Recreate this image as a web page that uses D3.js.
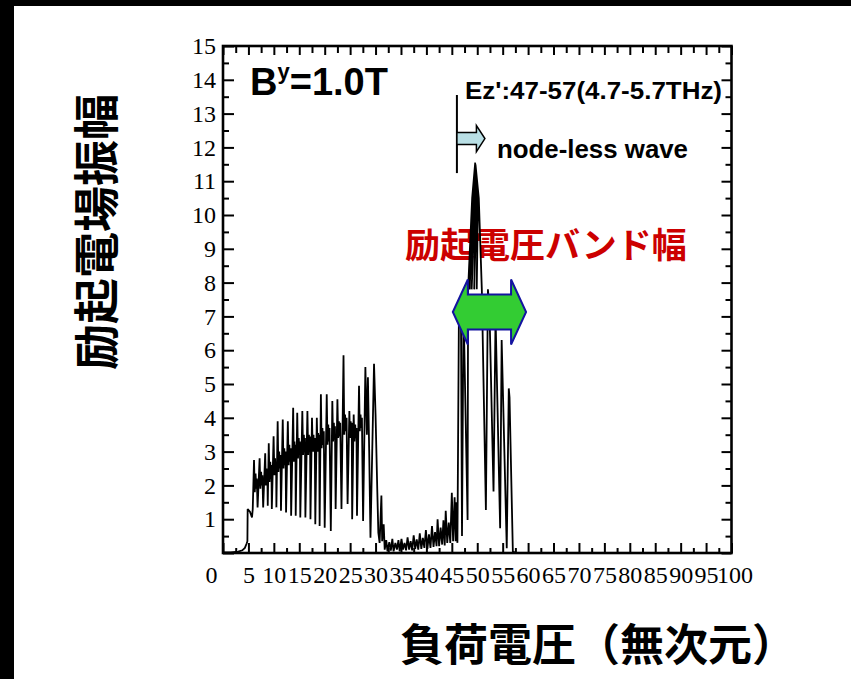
<!DOCTYPE html>
<html>
<head>
<meta charset="utf-8">
<script src="https://cdn.jsdelivr.net/npm/d3@7"></script>
<style>
  html, body { margin: 0; padding: 0; background: #fff; }
  svg { display: block; }
</style>
</head>
<body>
<svg id="chart" width="851" height="679"></svg>
<script>
// ---- Trace of excitation field amplitude vs. load voltage, as [voltage, amplitude] vertices ----

// slow start and first spike below voltage 5
const rampTrace = [
  [0, 0.02], [1.5, 0.02], [3.0, 0.04], [3.8, 0.08], [4.3, 0.15], [4.65, 0.28],
  [4.8, 0.35], [4.85, 1.3]
];

// sawtooth oscillation between voltage 5 and 31
const combTrace = [
  [5.3, 1.22], [5.7, 1.05], [5.85, 1.3], [6.1, 2.75], [6.25, 1.8], [6.4, 2.35], [6.55, 1.9], [6.65, 2.2], [6.8, 1.35],
  [7.2, 2.8], [7.35, 1.9], [7.5, 2.4], [7.62, 2.0], [7.75, 2.3], [7.9, 1.35],
  [8.3, 2.95], [8.42, 2.0], [8.55, 2.5], [8.65, 2.1], [8.72, 2.4], [8.8, 1.4],
  [9.0, 3.25], [9.15, 2.1], [9.3, 2.7], [9.42, 2.2], [9.52, 2.6], [9.6, 1.3],
  [9.95, 3.45], [10.1, 2.3], [10.25, 2.8], [10.35, 2.3], [10.45, 2.7], [10.5, 1.35],
  [10.75, 3.9], [10.9, 2.4], [11.05, 3.0], [11.18, 2.5], [11.3, 2.9], [11.4, 1.25],
  [11.75, 3.95], [11.9, 2.5], [12.05, 3.1], [12.18, 2.6], [12.3, 3.0], [12.4, 1.2],
  [12.75, 3.9], [12.9, 2.6], [13.05, 3.2], [13.18, 2.7], [13.3, 3.1], [13.4, 1.1],
  [13.8, 4.3], [13.92, 2.7], [14.05, 3.3], [14.15, 2.8], [14.25, 3.2], [14.3, 1.1],
  [14.6, 4.15], [14.75, 2.8], [14.9, 3.4], [15.02, 2.9], [15.12, 3.3], [15.2, 1.05],
  [15.6, 4.2], [15.75, 2.9], [15.9, 3.5], [16.02, 3.0], [16.12, 3.4], [16.2, 1.05],
  [16.6, 4.2], [16.75, 2.9], [16.9, 3.5], [17.02, 3.0], [17.12, 3.45], [17.2, 1.0],
  [17.5, 4.0], [17.65, 3.0], [17.8, 3.5], [17.92, 3.0], [18.05, 3.4], [18.15, 0.85],
  [18.45, 4.0], [18.6, 3.0], [18.72, 3.55], [18.82, 3.1], [18.92, 3.5], [19.0, 0.8],
  [19.25, 4.7], [19.4, 3.1], [19.55, 3.7], [19.68, 3.2], [19.82, 3.6], [20.0, 0.75],
  [20.4, 4.7], [20.55, 3.2], [20.7, 3.8], [20.82, 3.3], [20.95, 3.7], [21.2, 0.65],
  [21.5, 4.5], [21.65, 3.3], [21.8, 3.85], [21.92, 3.35], [22.02, 3.75], [22.15, 1.3],
  [22.5, 4.55], [22.65, 3.4], [22.8, 3.9], [22.92, 3.45], [23.05, 3.85], [23.3, 1.3],
  [23.7, 5.85], [23.85, 3.5], [24.0, 4.1], [24.15, 3.6], [24.3, 4.0], [24.5, 1.45],
  [24.85, 4.2], [24.98, 3.4], [25.1, 3.9], [25.22, 3.5], [25.32, 3.85], [25.4, 1.0],
  [25.7, 4.1], [25.85, 3.3], [26.0, 3.8], [26.12, 3.4], [26.25, 3.7], [26.35, 1.1],
  [26.75, 4.95], [26.9, 3.6], [27.05, 4.1], [27.18, 3.7], [27.32, 4.0], [27.55, 0.95],
  [28.0, 5.5], [28.3, 3.5], [28.5, 5.2], [28.75, 3.0], [29.0, 0.45], [29.7, 5.6], [30.0, 4.1],
  [30.35, 1.8], [30.55, 0.6], [30.8, 0.3], [31.15, 1.7], [31.3, 0.35]
];

// low-level ripple between voltage 31 and 46
const quietTrace = [
  [31.6, 0.85], [31.8, 0.1], [32.1, 0.38], [32.35, 0.05], [32.7, 0.32], [33.0, 0.07], [33.3, 0.42],
  [33.55, 0.05], [33.9, 0.3], [34.2, 0.1], [34.5, 0.38], [34.75, 0.05], [35.1, 0.42], [35.4, 0.1],
  [35.7, 0.3], [36.0, 0.08], [36.3, 0.46], [36.6, 0.1], [36.9, 0.35], [37.2, 0.08], [37.5, 0.52],
  [37.8, 0.12], [38.1, 0.4], [38.4, 0.1], [38.7, 0.58], [39.0, 0.12], [39.3, 0.45], [39.6, 0.15],
  [39.9, 0.68], [40.2, 0.12], [40.5, 0.55], [40.8, 0.15], [41.1, 0.8], [41.4, 0.18], [41.7, 0.62],
  [42.0, 0.2], [42.2, 1.0], [42.5, 0.2], [42.8, 0.75], [43.1, 0.25], [43.35, 0.97], [43.6, 0.22],
  [43.8, 1.25], [44.1, 0.3], [44.4, 0.9], [44.7, 0.3], [45.0, 1.78], [45.25, 0.35], [45.55, 1.65],
  [45.75, 0.35], [45.9, 1.5], [46.1, 0.3]
];

// strong response inside the excitation band (main peak drawn as a bundle of strokes)
const bandTrace = [
  [46.4, 7.2], [46.8, 7.0], [47.0, 0.5], [47.3, 7.3], [48.1, 0.98],
  [48.2, 7.8], [49.0, 10.5], [49.6, 11.55],
  [49.15, 10.5], [48.5, 7.8], [49.3, 10.5], [49.6, 11.5],
  [49.45, 10.5], [48.9, 7.8], [49.6, 10.5], [49.62, 11.5],
  [49.75, 10.5], [49.4, 7.8], [49.9, 10.5], [49.6, 11.45],
  [50.05, 10.5], [49.9, 7.8], [50.15, 10.5], [49.65, 11.5],
  [50.3, 10.5], [50.9, 7.8],
  [51.7, 1.27], [52.1, 7.8], [52.4, 7.2], [53.2, 1.82], [53.6, 7.0], [54.5, 0.73], [54.8, 6.3],
  [55.8, 0.14], [56.2, 4.87], [56.35, 4.6], [57.0, 0.05], [57.5, 0.0]
];

// axis ticks and labels
const xTickValues = [0, 5, 10, 15, 20, 25, 30, 35, 40, 45, 50, 55, 60, 65, 70, 75, 80, 85, 90, 95, 100];
const xTickLabels = ["0", "5", "10", "15", "20", "25", "30", "35", "40", "45", "50", "55", "60", "65", "70", "75", "80", "85", "90", "95", "100"];
const xMinorTicks = [2.5, 7.5, 12.5, 17.5, 22.5, 27.5, 32.5, 37.5, 42.5, 47.5, 52.5, 57.5, 62.5, 67.5, 72.5, 77.5, 82.5, 87.5, 92.5, 97.5];
const yTickValues = [0, 1, 2, 3, 4, 5, 6, 7, 8, 9, 10, 11, 12, 13, 14, 15];
const yTickLabels = ["", "1", "2", "3", "4", "5", "6", "7", "8", "9", "10", "11", "12", "13", "14", "15"];
const yMinorTicks = [0.5, 1.5, 2.5, 3.5, 4.5, 5.5, 6.5, 7.5, 8.5, 9.5, 10.5, 11.5, 12.5, 13.5, 14.5];

// annotations, in data units
const bandArrowSpan = [45.2, 59.6];   // tips of the double arrow
const bandArrowLevel = 7.13;
const waveMarkerX = 46.0;             // onset of the node-less wave
const waveMarkerSpan = [11.24, 13.55];
const waveArrowLevel = 12.26;

// titles and labels
const yTitle = "励起電場振幅";
const xTitle = "負荷電圧（無次元）";
const bandLabel = "励起電圧バンド幅";
const fieldLabel = ["B", "y", "=1.0T"];
const rangeLabel = "Ez':47-57(4.7-5.7THz)";
const waveLabel = "node-less wave";

// ---- drawing ----
const svg = d3.select("#chart");
const serif = "'Liberation Serif', 'Times New Roman', serif";
const sans = "'Liberation Sans', Arial, sans-serif";
const cjk = "'Noto Sans CJK JP', 'Noto Sans CJK SC', sans-serif";

const x = d3.scaleLinear().domain([0, 100]).range([223, 731.5]);
const y = d3.scaleLinear().domain([0, 15]).range([553, 46]);

// dark slide edges
svg.append("rect").attr("x", 0).attr("y", 0).attr("width", 851).attr("height", 6).attr("fill", "#000");
svg.append("rect").attr("x", 0).attr("y", 0).attr("width", 14).attr("height", 679).attr("fill", "#000");

// axes: all ticks point into the plot
function styleAxis(g, fontSize) {
  g.select(".domain").remove();
  g.selectAll(".tick line").attr("stroke", "#000").attr("stroke-width", 2);
  g.attr("font-family", serif).attr("font-size", fontSize);
  g.selectAll(".tick text").attr("fill", "#000");
}

const gLeft = svg.append("g").attr("transform", `translate(${x(0)},0)`)
  .call(d3.axisLeft(y).tickValues(yTickValues).tickSize(-11).tickPadding(7)
    .tickFormat((d, i) => yTickLabels[i]));
styleAxis(gLeft, 24);
svg.append("g").attr("transform", `translate(${x(0)},0)`)
  .call(d3.axisLeft(y).tickValues(yMinorTicks).tickSize(-6).tickFormat(""))
  .call(g => styleAxis(g, 24));

svg.append("g").attr("transform", `translate(${x(100)},0)`)
  .call(d3.axisRight(y).tickValues(yTickValues).tickSize(-10).tickFormat(""))
  .call(g => styleAxis(g, 24));
svg.append("g").attr("transform", `translate(${x(100)},0)`)
  .call(d3.axisRight(y).tickValues(yMinorTicks).tickSize(-6).tickFormat(""))
  .call(g => styleAxis(g, 24));

const gBottom = svg.append("g").attr("transform", `translate(0,${y(0)})`)
  .call(d3.axisBottom(x).tickValues(xTickValues).tickSize(-10).tickPadding(13)
    .tickFormat((d, i) => xTickLabels[i]));
styleAxis(gBottom, 24);
// the corner label sits left of the origin; the last label is nudged clear of "95"
gBottom.selectAll(".tick text").attr("dx", d => d === 0 ? -12 : (d === 100 ? 3 : 0));
svg.append("g").attr("transform", `translate(0,${y(0)})`)
  .call(d3.axisBottom(x).tickValues(xMinorTicks).tickSize(-5).tickFormat(""))
  .call(g => styleAxis(g, 24));

svg.append("g").attr("transform", `translate(0,${y(15)})`)
  .call(d3.axisTop(x).tickValues(xTickValues).tickSize(-9).tickFormat(""))
  .call(g => styleAxis(g, 24));
svg.append("g").attr("transform", `translate(0,${y(15)})`)
  .call(d3.axisTop(x).tickValues(xMinorTicks).tickSize(-7).tickFormat(""))
  .call(g => styleAxis(g, 24));

// plot frame
svg.append("rect")
  .attr("x", x(0)).attr("y", y(15))
  .attr("width", x(100) - x(0)).attr("height", y(0) - y(15))
  .attr("fill", "none").attr("stroke", "#000").attr("stroke-width", 2.6);

// band label sits under the trace
svg.append("text")
  .attr("x", 405).attr("y", 242)
  .attr("dominant-baseline", "central")
  .attr("font-family", cjk).attr("font-weight", 700).attr("font-size", 35)
  .attr("fill", "#cc0000")
  .text(bandLabel);

// the trace
const trace = rampTrace.concat(combTrace, quietTrace, bandTrace);
const line = d3.line().x(d => x(d[0])).y(d => y(d[1]));
svg.append("path")
  .datum(trace)
  .attr("d", line)
  .attr("fill", "none")
  .attr("stroke", "#000")
  .attr("stroke-width", 1.8)
  .attr("stroke-linejoin", "miter")
  .attr("stroke-miterlimit", 2);

// double arrow spanning the excitation band
{
  const xl = x(bandArrowSpan[0]), xr = x(bandArrowSpan[1]), yc = y(bandArrowLevel);
  const head = 15, body = 17.5, wing = 32.5;
  const pts = [
    [xl, yc], [xl + head, yc - wing], [xl + head, yc - body], [xr - head, yc - body],
    [xr - head, yc - wing], [xr, yc], [xr - head, yc + wing], [xr - head, yc + body],
    [xl + head, yc + body], [xl + head, yc + wing]
  ];
  svg.append("polygon")
    .attr("points", pts.map(p => p.join(",")).join(" "))
    .attr("fill", "#33cc33").attr("stroke", "#1414a0").attr("stroke-width", 2)
    .attr("stroke-linejoin", "miter");
}

// node-less wave onset marker and arrow
svg.append("line")
  .attr("x1", x(waveMarkerX)).attr("x2", x(waveMarkerX))
  .attr("y1", y(waveMarkerSpan[1])).attr("y2", y(waveMarkerSpan[0]))
  .attr("stroke", "#000").attr("stroke-width", 2);
{
  const x0 = x(waveMarkerX), yc = y(waveArrowLevel);
  const len = 28, head = 8.5, body = 6, wing = 13;
  const pts = [
    [x0, yc - body], [x0 + len - head, yc - body], [x0 + len - head, yc - wing], [x0 + len, yc],
    [x0 + len - head, yc + wing], [x0 + len - head, yc + body], [x0, yc + body]
  ];
  svg.append("polygon")
    .attr("points", pts.map(p => p.join(",")).join(" "))
    .attr("fill", "#b9dfe5").attr("stroke", "#000").attr("stroke-width", 1.5);
}

// text labels inside the plot
const bLabel = svg.append("text")
  .attr("x", 250).attr("y", 95)
  .attr("font-family", sans).attr("font-weight", 700).attr("font-size", 38)
  .attr("fill", "#000");
bLabel.append("tspan").text(fieldLabel[0]);
bLabel.append("tspan").attr("font-size", 22).attr("dy", -16.5).text(fieldLabel[1]);
bLabel.append("tspan").attr("dy", 16.5).text(fieldLabel[2]);

svg.append("text")
  .attr("x", 465).attr("y", 99)
  .attr("font-family", sans).attr("font-weight", 700).attr("font-size", 24)
  .attr("textLength", 257).attr("lengthAdjust", "spacingAndGlyphs")
  .attr("fill", "#000")
  .text(rangeLabel);

svg.append("text")
  .attr("x", 497).attr("y", 158)
  .attr("font-family", sans).attr("font-weight", 700).attr("font-size", 25)
  .attr("textLength", 191).attr("lengthAdjust", "spacingAndGlyphs")
  .attr("fill", "#000")
  .text(waveLabel);

// axis titles
svg.append("text")
  .attr("transform", "translate(93,232) rotate(-90)")
  .attr("text-anchor", "middle").attr("dominant-baseline", "central")
  .attr("font-family", cjk).attr("font-weight", 700).attr("font-size", 46)
  .attr("fill", "#000")
  .text(yTitle);

svg.append("text")
  .attr("x", 400).attr("y", 642)
  .attr("dominant-baseline", "central")
  .attr("font-family", cjk).attr("font-weight", 700).attr("font-size", 44)
  .attr("fill", "#000")
  .text(xTitle);
</script>
</body>
</html>
